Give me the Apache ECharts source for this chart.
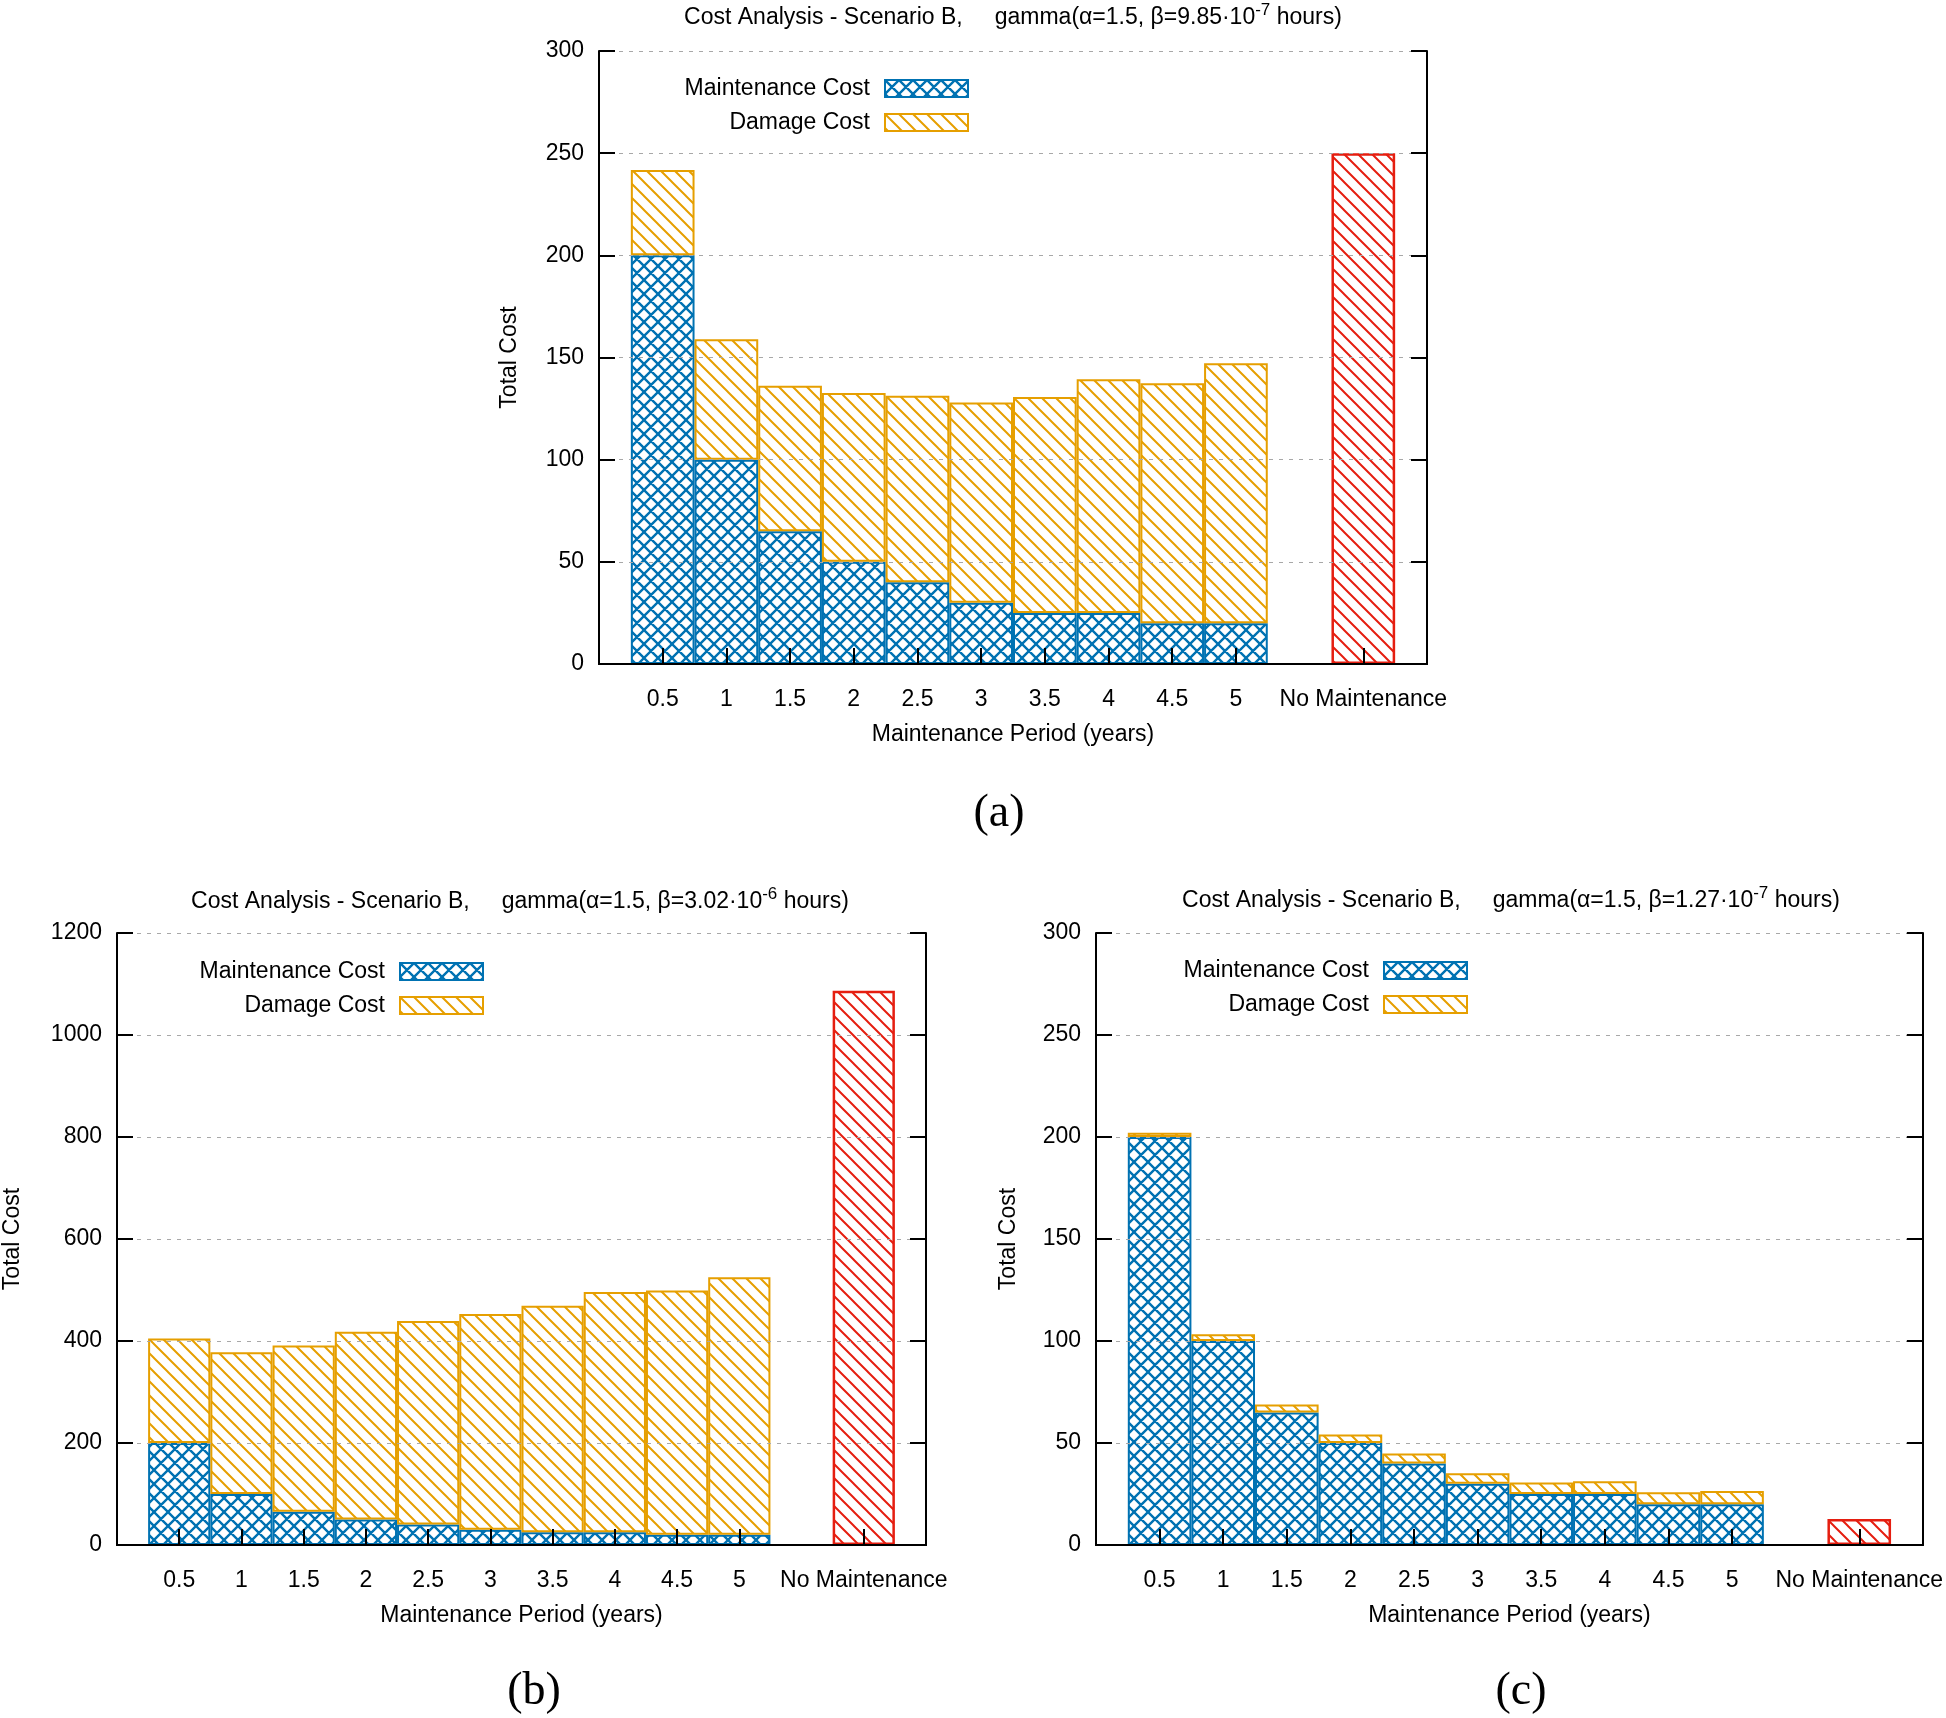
<!DOCTYPE html>
<html><head><meta charset="utf-8">
<script src="https://cdn.jsdelivr.net/npm/echarts@6/dist/echarts.min.js"></script>
<style>html,body{margin:0;padding:0;background:#fff}#chart{width:1946px;height:1718px}</style>
</head><body><div id="chart"></div>
<script>
// ---- data ----
const categories = ['', '0.5', '1', '1.5', '2', '2.5', '3', '3.5', '4', '4.5', '5', '', 'No Maintenance', ''];
const maintenanceCost = [200, 100, 65, 50, 40, 30, 25, 25, 20, 20];
const damageCostA = [41.8, 58.9, 71.2, 82.6, 91.3, 98, 105.7, 114.3, 117.4, 127.2];
const damageCostB = [205, 278, 326, 368, 399, 423, 444, 471, 479, 505];
const damageCostC = [2.1, 3.3, 3.9, 4.2, 4.9, 5.2, 5.6, 6.2, 5.9, 6.5];
const noMaintenanceA = [250];
const noMaintenanceB = [1087];
const noMaintenanceC = [12.7];
const yAxisA = [0, 300, 50];
const yAxisB = [0, 1200, 200];
const yAxisC = [0, 300, 50];
const betaA = ['9.85', '-7'];
const betaB = ['3.02', '-6'];
const betaC = ['1.27', '-7'];

// ---- styles ----
const BLUE = '#0072b2', ORANGE = '#e69f00', RED = '#e51e10';
const FONT = 'Liberation Sans';

function makePattern(color, size, lw, cross) {
  const c = document.createElement('canvas');
  c.width = size; c.height = size;
  const ctx = c.getContext('2d');
  ctx.strokeStyle = color; ctx.lineWidth = lw;
  ctx.beginPath();
  for (let k = -2; k <= 2; k++) {
    ctx.moveTo(k * size - size, -size); ctx.lineTo(k * size + 2 * size, 2 * size);
    if (cross) { ctx.moveTo(k * size + 2 * size, -size); ctx.lineTo(k * size - size, 2 * size); }
  }
  ctx.stroke();
  return { image: c, repeat: 'repeat' };
}
const crossBlue = makePattern(BLUE, 14, 2.4, true);
const hatchOrange = makePattern(ORANGE, 14, 2, false);
const hatchRed = makePattern(RED, 14, 2, false);

function slots(vals) { return [null].concat(vals, [null, null, null]); }
function nmSlots(v) { const a = new Array(14).fill(null); a[12] = v[0]; return a; }

const panels = [
  { grid: { left: 599, top: 51, width: 828, height: 613 }, y: yAxisA, damage: damageCostA, nm: noMaintenanceA, yGap: 78,
    title: { x: 1013, y: 18, beta: betaA }, legend: { right: 977, top: 77 }, label: { text: '(a)', x: 999, y: 814 } },
  { grid: { left: 114, top: 933, width: 812, height: 612 }, y: yAxisB, damage: damageCostB, nm: noMaintenanceB, yGap: 93,
    title: { x: 520, y: 902, beta: betaB }, legend: { right: 1462, top: 960 }, label: { text: '(b)', x: 534, y: 1692 } },
  { grid: { left: 1096, top: 933, width: 830, height: 612 }, y: yAxisC, damage: damageCostC, nm: noMaintenanceC, yGap: 76,
    title: { x: 1511, y: 901, beta: betaC }, legend: { right: 478, top: 959 }, label: { text: '(c)', x: 1521, y: 1692 } }
];

const option = {
  animation: false,
  backgroundColor: '#fff',
  textStyle: { fontFamily: FONT, color: '#000' },
  grid: [], xAxis: [], yAxis: [], series: [], legend: [], graphic: []
};

panels.forEach((p, i) => {
  option.grid.push(Object.assign({ containLabel: false }, p.grid));
  const tickFilter = (idx, val) => val !== '';
  option.xAxis.push({
    type: 'category', gridIndex: i, data: categories, boundaryGap: false, position: 'bottom', z: 10,
    axisLine: { show: true, lineStyle: { color: '#000', width: 2 } },
    axisTick: { show: true, inside: true, length: 16, interval: tickFilter, lineStyle: { color: '#000', width: 2 } },
    axisLabel: { interval: 0, fontSize: 23, color: '#000', margin: 24, fontFamily: FONT },
    name: 'Maintenance Period (years)', nameLocation: 'middle', nameGap: 59,
    nameTextStyle: { fontSize: 23, color: '#000', fontFamily: FONT }
  });
  option.xAxis.push({
    type: 'category', gridIndex: i, data: categories, boundaryGap: false, position: 'top', z: 10,
    axisLine: { show: true, lineStyle: { color: '#000', width: 2 } },
    axisTick: { show: false }, axisLabel: { show: false }
  });
  option.yAxis.push({
    type: 'value', gridIndex: i, min: p.y[0], max: p.y[1], interval: p.y[2], position: 'left', z: 10,
    axisLine: { show: true, lineStyle: { color: '#000', width: 2 } },
    axisTick: { show: true, inside: true, length: 16, lineStyle: { color: '#000', width: 2 } },
    axisLabel: { fontSize: 23, color: '#000', margin: 15, fontFamily: FONT, formatter: v => String(v) },
    splitLine: { show: true, lineStyle: { color: '#a8a8a8', width: 1, type: [4, 6] } },
    name: 'Total Cost', nameLocation: 'middle', nameGap: p.yGap,
    nameTextStyle: { fontSize: 23, color: '#000', fontFamily: FONT }
  });
  option.yAxis.push({
    type: 'value', gridIndex: i, min: p.y[0], max: p.y[1], interval: p.y[2], position: 'right', z: 10,
    axisLine: { show: true, lineStyle: { color: '#000', width: 2 } },
    axisTick: { show: true, inside: true, length: 16, lineStyle: { color: '#000', width: 2 } },
    axisLabel: { show: false }, splitLine: { show: false }
  });
  const common = { type: 'bar', xAxisIndex: 2 * i, yAxisIndex: 2 * i, barWidth: '100%', barGap: '-100%', barCategoryGap: '0%' };
  option.series.push(Object.assign({}, common, {
    name: 'Maintenance Cost', stack: 'cost' + i, data: slots(maintenanceCost),
    itemStyle: { color: crossBlue, borderColor: BLUE, borderWidth: 2 }
  }));
  option.series.push(Object.assign({}, common, {
    name: 'Damage Cost', stack: 'cost' + i, data: slots(p.damage),
    itemStyle: { color: hatchOrange, borderColor: ORANGE, borderWidth: 2 }
  }));
  option.series.push(Object.assign({}, common, {
    name: 'No Maintenance', stack: 'nm' + i, data: nmSlots(p.nm),
    itemStyle: { color: hatchRed, borderColor: RED, borderWidth: 2.5 }
  }));
  option.legend.push({
    data: ['Maintenance Cost', 'Damage Cost'], orient: 'vertical', align: 'right',
    right: p.legend.right, top: p.legend.top, padding: 0,
    itemWidth: 83, itemHeight: 17, itemGap: 11, icon: 'rect',
    itemStyle: { borderColor: 'inherit', borderWidth: 2 },
    textStyle: { fontSize: 23, color: '#000', fontFamily: FONT, padding: [0, 10, 0, 0] },
    selectedMode: false
  });
  option.graphic.push({
    type: 'text', x: p.title.x, y: p.title.y, silent: true,
    style: {
      text: 'Cost Analysis - Scenario B,     gamma(\u03b1=1.5, \u03b2=' + p.title.beta[0] + '\u00b710{sup|' + p.title.beta[1] + '} hours)',
      fontSize: 23, fontFamily: FONT, fill: '#000', align: 'center', verticalAlign: 'middle', lineHeight: 32,
      rich: { sup: { fontSize: 17, fontFamily: FONT, fill: '#000', verticalAlign: 'top', lineHeight: 32 } }
    }
  });
  option.graphic.push({
    type: 'text', x: p.label.x, y: p.label.y, silent: true,
    style: { text: p.label.text, fontSize: 46, fontFamily: 'Liberation Serif', fill: '#000', align: 'center', verticalAlign: 'middle' }
  });
});

const chart = echarts.init(document.getElementById('chart'), null, { renderer: 'canvas' });
chart.setOption(option);
</script></body></html>
